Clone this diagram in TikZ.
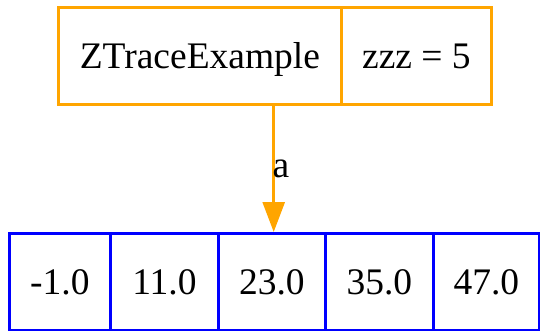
\documentclass[tikz,border=0pt]{standalone}
\usepackage{fontspec}
\setmainfont{Liberation Serif}
\usetikzlibrary{arrows.meta}
\definecolor{gvorange}{HTML}{FFA500}
\definecolor{gvblue}{HTML}{0000FF}
\begin{document}
\begin{tikzpicture}[x=1pt,y=-1pt,
  cell/.style={draw,line width=2.8pt,minimum height=97pt,inner sep=0pt,anchor=north west,text height=25pt,text depth=0pt,font=\fontsize{37.5}{40}\selectfont},
  topcell/.style={cell,draw=gvorange},
  botcell/.style={cell,draw=gvblue},
  edge/.style={draw=gvorange,line width=2.8pt,-{Triangle[length=30pt,width=22pt,fill=gvorange]}},
  elabel/.style={font=\fontsize{37.5}{40}\selectfont,inner sep=0pt,anchor=base}]
\useasboundingbox (0,0) rectangle (540,331);
% top record
\node[minimum width=433pt,minimum height=97pt,inner sep=0pt,anchor=north west] (top) at (57,6) {};
\node[topcell,minimum width=283pt] (t1) at (57,6) {ZTraceExample};
\node[topcell,minimum width=150pt] (t2) at (340,6) {zzz = 5};
% bottom record
\node[minimum width=530pt,minimum height=97pt,inner sep=0pt,anchor=north west] (bot) at (8,232) {};
\node[botcell,minimum width=101pt] (b1) at (8,232) {-1.0};
\node[botcell,minimum width=108pt] (b2) at (109,232) {11.0};
\node[botcell,minimum width=107pt] (b3) at (217,232) {23.0};
\node[botcell,minimum width=108pt] (b4) at (324,232) {35.0};
\node[botcell,minimum width=106pt] (b5) at (432,232) {47.0};
% edge
\draw[edge] (top.south) -- (top.south |- bot.north);
\node[elabel] (la) at (281,177) {a};
\end{tikzpicture}
\end{document}
